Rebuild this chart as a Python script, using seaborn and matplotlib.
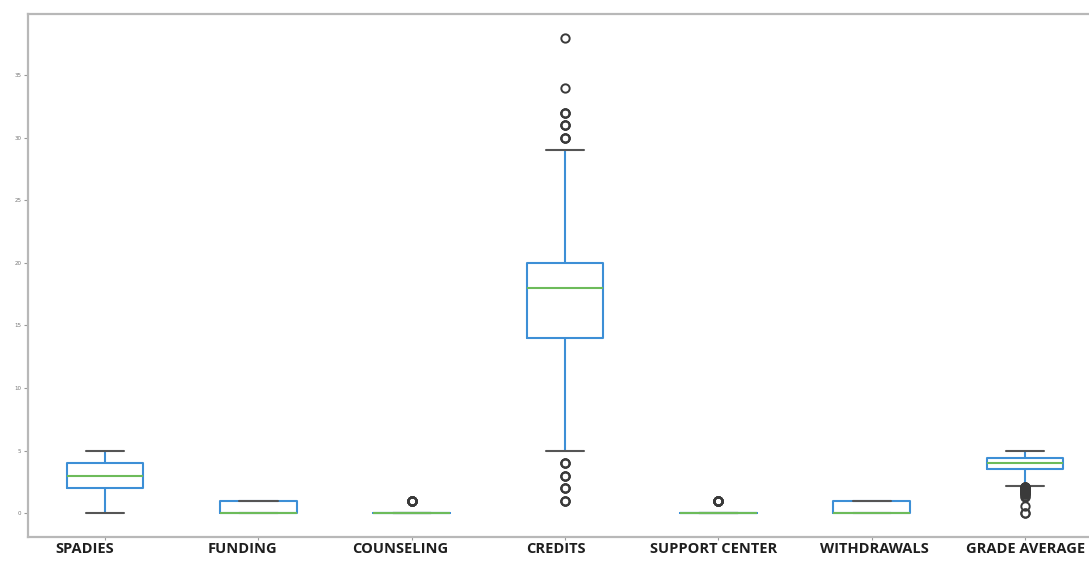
import numpy as np
import pandas as pd
import matplotlib
matplotlib.use("Agg")
import matplotlib.pyplot as plt
import matplotlib.transforms as mtransforms
import seaborn as sns

# Column names, in plotting order
categories = ["SPADIES", "FUNDING", "COUNSELING", "CREDITS",
              "SUPPORT CENTER", "WITHDRAWALS", "GRADE AVERAGE"]

# Each variable is stored as distinct values and how many records take each value
spadies_values = [0, 1, 2, 3, 4, 5]
spadies_counts = [5, 10, 20, 30, 25, 10]

funding_values = [0, 1]
funding_counts = [60, 40]

counseling_values = [0, 1]
counseling_counts = [90, 10]

credits_values = [1, 2, 3, 4, 5, 6, 7, 8, 9, 10, 11, 12, 13, 14, 15, 16, 17,
                  18, 19, 20, 21, 22, 23, 24, 25, 26, 27, 28, 29, 30, 31, 32,
                  34, 38]
credits_counts = [3, 3, 3, 3, 2, 2, 3, 4, 5, 6, 8, 10, 14, 30, 20, 22, 25,
                  40, 35, 40, 10, 8, 6, 5, 4, 3, 2, 2, 2, 3, 3, 3,
                  1, 1]

support_values = [0, 1]
support_counts = [90, 10]

withdrawals_values = [0, 1]
withdrawals_counts = [60, 40]

grade_values = [0.0, 0.6, 1.3, 1.4, 1.5, 1.6, 1.7, 1.8, 1.9, 2.0, 2.1,
                2.2, 2.3, 2.4, 2.5, 2.6, 2.7, 2.8, 2.9, 3.0, 3.1, 3.2, 3.3,
                3.4, 3.5, 3.6, 3.7, 3.8, 3.9, 4.0, 4.1, 4.2, 4.3, 4.4, 4.5,
                4.6, 4.7, 4.8, 4.9, 5.0]
grade_counts = [2, 1, 1, 1, 2, 2, 3, 3, 4, 4, 4,
                3, 3, 3, 4, 4, 5, 5, 6, 7, 7, 8, 8,
                8, 20, 18, 18, 18, 20, 24, 25, 25, 25, 30, 20,
                18, 15, 12, 8, 6]

tables = [
    (spadies_values, spadies_counts),
    (funding_values, funding_counts),
    (counseling_values, counseling_counts),
    (credits_values, credits_counts),
    (support_values, support_counts),
    (withdrawals_values, withdrawals_counts),
    (grade_values, grade_counts),
]

frames = []
for name, (vals, cnts) in zip(categories, tables):
    frames.append(pd.DataFrame({"variable": name,
                                "value": np.repeat(vals, cnts)}))
long_df = pd.concat(frames, ignore_index=True)

sns.set_theme(style="white")

fig = plt.figure(figsize=(10.89, 5.61), dpi=100)
ax = fig.add_axes([0.026, 0.043, 0.9857, 0.932])

box_blue = "#3d8fd6"
median_green = "#6dbb5a"
cap_gray = "#555555"

sns.boxplot(
    data=long_df, x="variable", y="value", order=categories,
    width=0.5, fill=False, color=box_blue, linewidth=1.5, whis=1.5,
    boxprops=dict(color=box_blue),
    whiskerprops=dict(color=box_blue),
    medianprops=dict(color=median_green),
    capprops=dict(color=cap_gray),
    flierprops=dict(marker="o", markerfacecolor="none",
                    markeredgecolor="#3a3a3a", markersize=6,
                    markeredgewidth=1.4),
    ax=ax,
)

ax.set_xlabel("")
ax.set_ylabel("")
ax.set_ylim(-1.9, 39.9)
ax.set_yticks(np.arange(0, 36, 5))

for side in ax.spines.values():
    side.set_color("#b8b8b8")
    side.set_linewidth(1.6)

ax.tick_params(axis="y", labelsize=4, labelcolor="#777777", color="#999999",
               length=3, width=0.8, left=True, pad=2)
ax.tick_params(axis="x", color="#999999", length=2, width=0.8, bottom=True,
               pad=2)

# Category labels sit slightly left of their ticks, drifting less toward the right
label_shift_px = [-20, -16, -11, -9, -5, 3, 0]
for lbl, dx in zip(ax.get_xticklabels(), label_shift_px):
    lbl.set_fontfamily(["Open Sans", "DejaVu Sans"])
    lbl.set_fontweight("bold")
    lbl.set_fontsize(10.5)
    lbl.set_color("#1e1e1e")
    lbl.set_transform(lbl.get_transform() + mtransforms.ScaledTranslation(
        dx / 100.0, 0, fig.dpi_scale_trans))

fig.savefig("out.png", dpi=100)
